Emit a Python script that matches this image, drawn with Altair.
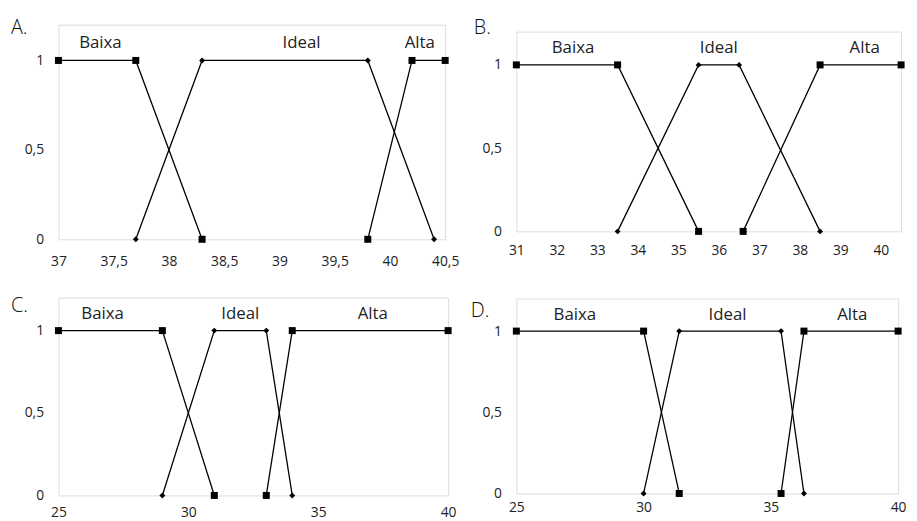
import altair as alt
import pandas as pd

SERIES = ["Baixa", "Ideal", "Alta"]

# ---- Panel A ----
a_baixa_x = [37.0, 37.7, 38.3]
a_baixa_y = [1, 1, 0]
a_ideal_x = [37.7, 38.3, 39.8, 40.4]
a_ideal_y = [0, 1, 1, 0]
a_alta_x = [39.8, 40.2, 40.5]
a_alta_y = [0, 1, 1]
a_label_x = [37.38, 39.2, 40.27]
a_ticks = [37, 37.5, 38, 38.5, 39, 39.5, 40, 40.5]
a_domain = [37, 40.5]

# ---- Panel B ----
b_baixa_x = [31.0, 33.5, 35.5]
b_baixa_y = [1, 1, 0]
b_ideal_x = [33.5, 35.5, 36.5, 38.5]
b_ideal_y = [0, 1, 1, 0]
b_alta_x = [36.6, 38.5, 40.5]
b_alta_y = [0, 1, 1]
b_label_x = [32.4, 36.0, 39.6]
b_ticks = [31, 32, 33, 34, 35, 36, 37, 38, 39, 40]
b_domain = [31, 40.5]

# ---- Panel C ----
c_baixa_x = [25, 29, 31]
c_baixa_y = [1, 1, 0]
c_ideal_x = [29, 31, 33, 34]
c_ideal_y = [0, 1, 1, 0]
c_alta_x = [33, 34, 40]
c_alta_y = [0, 1, 1]
c_label_x = [26.7, 32.0, 37.1]
c_ticks = [25, 30, 35, 40]
c_domain = [25, 40]

# ---- Panel D ----
d_baixa_x = [25, 30, 31.4]
d_baixa_y = [1, 1, 0]
d_ideal_x = [30, 31.4, 35.4, 36.3]
d_ideal_y = [0, 1, 1, 0]
d_alta_x = [35.4, 36.3, 40]
d_alta_y = [0, 1, 1]
d_label_x = [27.3, 33.3, 38.2]
d_ticks = [25, 30, 35, 40]
d_domain = [25, 40]

PANEL_LETTERS = ["A.", "B.", "C.", "D."]

LABEL_Y = 1.1
Y_TICKS = [0, 0.5, 1]
Y_DOMAIN = [0, 1.2]

FONT = "Open Sans"
LABEL_EXPR = "replace(format(datum.value, '~g'), '.', ',')"


def build_frame(bx, by, ix, iy, ax, ay):
    rows = []
    for name, xs, ys in (("Baixa", bx, by), ("Ideal", ix, iy), ("Alta", ax, ay)):
        for i, (x, y) in enumerate(zip(xs, ys)):
            rows.append({"serie": name, "x": x, "y": y, "ordem": i})
    return pd.DataFrame(rows)


def panel(letter, bx, by, ix, iy, ax, ay, label_x, ticks, domain, w, h,
          letter_dx, letter_dy, xpad):
    df = build_frame(bx, by, ix, iy, ax, ay)
    lab = pd.DataFrame({"serie": SERIES, "x": label_x, "y": [LABEL_Y] * 3})

    xenc = alt.X(
        "x:Q",
        scale=alt.Scale(domain=domain, nice=False, zero=False),
        axis=alt.Axis(
            values=ticks, title=None, grid=False, ticks=False, domain=False,
            labelExpr=LABEL_EXPR, labelPadding=xpad,
            labelFontSize=14, labelFont=FONT, labelColor="#222",
            labelFlush=False, labelOverlap=False,
        ),
    )
    yenc = alt.Y(
        "y:Q",
        scale=alt.Scale(domain=Y_DOMAIN, nice=False),
        axis=alt.Axis(
            values=Y_TICKS, title=None, grid=False, ticks=False, domain=False,
            labelExpr=LABEL_EXPR, labelPadding=15,
            labelFontSize=14, labelFont=FONT, labelColor="#222",
        ),
    )
    base = alt.Chart(df)
    lines = base.mark_line(color="black", strokeWidth=1.3).encode(
        x=xenc, y=yenc, detail="serie:N", order="ordem:Q"
    )
    squares = base.transform_filter(
        alt.FieldOneOfPredicate(field="serie", oneOf=["Baixa", "Alta"])
    ).mark_point(filled=True, color="black", opacity=1, shape="square", size=50).encode(
        x="x:Q", y="y:Q"
    )
    diamonds = base.transform_filter(
        alt.FieldEqualPredicate(field="serie", equal="Ideal")
    ).mark_point(filled=True, color="black", opacity=1, shape="diamond", size=36).encode(
        x="x:Q", y="y:Q"
    )
    txt = alt.Chart(lab).mark_text(fontSize=17, font=FONT, color="#222").encode(
        x="x:Q", y="y:Q", text="serie:N"
    )
    # panel letter (A., B., ...) at the upper-left, outside the frame
    tag = alt.Chart(pd.DataFrame({"letra": [letter]})).mark_text(
        fontSize=20, font=FONT, fontWeight=300, color="#111",
        align="left", baseline="top",
    ).encode(
        text="letra:N", x=alt.value(letter_dx), y=alt.value(letter_dy)
    )
    return alt.layer(lines, squares, diamonds, txt, tag).properties(width=w, height=h)


def spacer():
    # invisible 1px block so each column starts from its own top edge
    return alt.Chart(pd.DataFrame({"v": [0]})).mark_point(
        opacity=0, size=1
    ).encode(x=alt.value(0), y=alt.value(0)).properties(
        width=1, height=1, view=alt.ViewBackground(stroke="transparent")
    )


pA = panel(PANEL_LETTERS[0], a_baixa_x, a_baixa_y, a_ideal_x, a_ideal_y, a_alta_x, a_alta_y,
           a_label_x, a_ticks, a_domain, 391, 217, -48, -7, 15)
pB = panel(PANEL_LETTERS[1], b_baixa_x, b_baixa_y, b_ideal_x, b_ideal_y, b_alta_x, b_alta_y,
           b_label_x, b_ticks, b_domain, 389, 202, -43, -14, 12)
pC = panel(PANEL_LETTERS[2], c_baixa_x, c_baixa_y, c_ideal_x, c_ideal_y, c_alta_x, c_alta_y,
           c_label_x, c_ticks, c_domain, 394, 200, -48, -1, 10)
pD = panel(PANEL_LETTERS[3], d_baixa_x, d_baixa_y, d_ideal_x, d_ideal_y, d_alta_x, d_alta_y,
           d_label_x, d_ticks, d_domain, 386, 197, -46, 3, 7)

col_left = alt.vconcat(spacer(), alt.vconcat(pA, pC, spacing=27), spacing=0)
col_right = alt.vconcat(spacer(), alt.vconcat(pB, pD, spacing=40), spacing=0)

chart = alt.hconcat(col_left, col_right, spacing=10).properties(
    padding={"left": 2, "top": 3, "right": 2, "bottom": 0}
).configure_view(
    stroke="#888", strokeWidth=1
).configure(background="white")

chart.save("out.html", embed_options={"renderer": "svg", "actions": False})
